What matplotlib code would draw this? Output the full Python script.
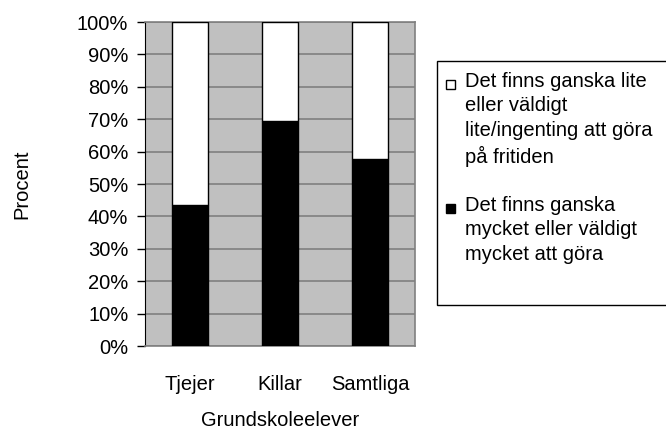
import matplotlib.pyplot as plt
from matplotlib.patches import Rectangle
from matplotlib.ticker import PercentFormatter

plt.rcParams['font.family'] = ['Liberation Sans', 'DejaVu Sans']

categories = ["Tjejer", "Killar", "Samtliga"]
mycket = [43.5, 69.5, 57.7]          # black part
lite = [100 - v for v in mycket]     # white part, rest up to 100%
legend_lite = "Det finns ganska lite\neller väldigt\nlite/ingenting att göra\npå fritiden"
legend_mycket = "Det finns ganska\nmycket eller väldigt\nmycket att göra"

FS = 14.5

fig = plt.figure(figsize=(6.66, 4.32), dpi=100)
ax = fig.add_axes([145 / 666, 86 / 432, 270 / 666, 324 / 432])
ax.set_facecolor('#c0c0c0')

x = range(len(categories))
ax.bar(x, mycket, width=0.41, color='black', edgecolor='black', linewidth=1, zorder=3)
ax.bar(x, lite, bottom=mycket, width=0.41, color='white', edgecolor='black', linewidth=1, zorder=3)

ax.set_xlim(-0.5, 2.5)
ax.set_ylim(0, 100)
ax.set_yticks(range(0, 101, 10))
ax.yaxis.set_major_formatter(PercentFormatter(decimals=0))
ax.set_xticks(list(x))
ax.set_xticklabels(categories)
ax.tick_params(axis='x', length=0, pad=21, labelsize=FS)
ax.tick_params(axis='y', length=6, width=1, pad=6, labelsize=FS)
ax.yaxis.grid(True, color='#808080', linewidth=1.2, zorder=1)
ax.set_axisbelow(True)

for s in ['top', 'right', 'bottom']:
    ax.spines[s].set_color('#808080')
    ax.spines[s].set_linewidth(1.2)
ax.spines['left'].set_color('black')

ax.set_ylabel("Procent", fontsize=FS)
ax.yaxis.set_label_coords(-0.42, 0.5)
ax.set_xlabel("Grundskoleelever", fontsize=FS)
ax.xaxis.set_label_coords(0.5, -0.2)

# legend box drawn in figure pixels
W, H = 666, 432
fig.patches.append(Rectangle((437 / W, (H - 305) / H), 240 / W, 244 / H,
                             transform=fig.transFigure, facecolor='white',
                             edgecolor='black', linewidth=1, clip_on=False))
fig.patches.append(Rectangle((446 / W, (H - 89) / H), 9 / W, 9 / H,
                             transform=fig.transFigure, facecolor='white',
                             edgecolor='black', linewidth=1))
fig.patches.append(Rectangle((446 / W, (H - 213) / H), 9 / W, 9 / H,
                             transform=fig.transFigure, facecolor='black',
                             edgecolor='black', linewidth=1))
fig.text(465 / W, (H - 72) / H, legend_lite, fontsize=FS, va='top',
         linespacing=1.36)
fig.text(465 / W, (H - 196) / H, legend_mycket, fontsize=FS, va='top',
         linespacing=1.36)

fig.savefig("out.png", dpi=100)
